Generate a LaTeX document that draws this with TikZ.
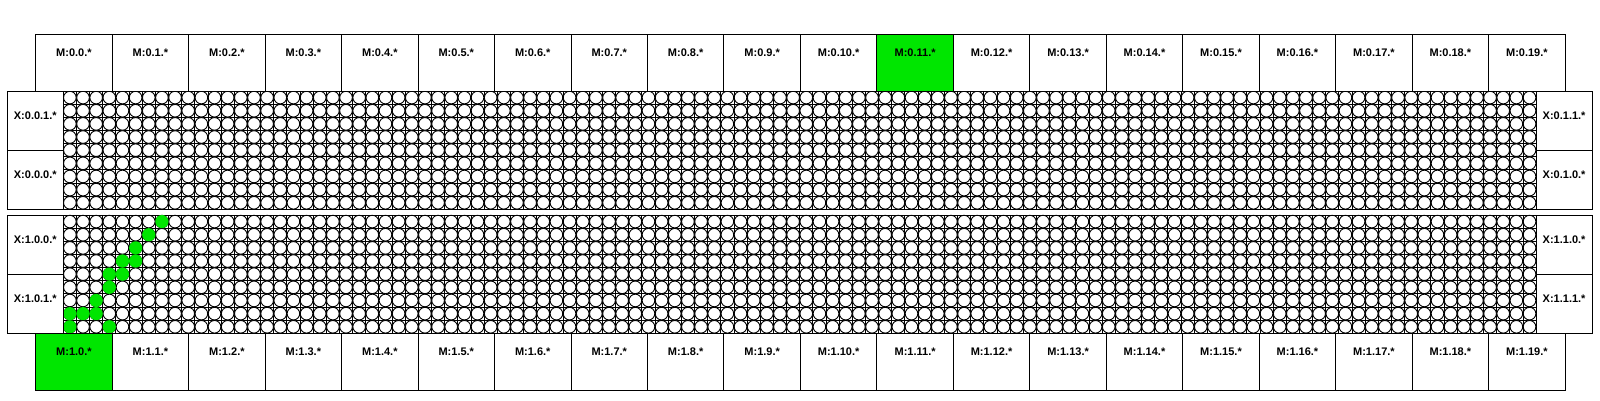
\documentclass[tikz,border=0pt]{standalone}
\usepackage{fontspec}
\setmainfont{Liberation Sans}
\usetikzlibrary{positioning}
\definecolor{busy}{RGB}{0,230,0}

\begin{document}
\begin{tikzpicture}[x=1pt,y=-1pt,
        every node/.style={font=\bfseries\fontsize{11}{13}\selectfont},
        cell/.style={draw,line width=0.9pt,fill=white,inner xsep=0pt,inner ysep=0pt,
          outer sep=0pt,anchor=north west},
        mbox/.style={cell,minimum width=76.47pt,text height=22pt,text depth=34.7pt},
        xbox/.style={cell,minimum width=56pt,text height=28pt,text depth=31.175pt},
        slot/.style={draw,line width=0.9pt,fill=white},
        hit/.style={fill=busy}
        ]
        \useasboundingbox (0,0) rectangle (1600,400);

        \foreach \g/\y in {0/91,1/215}{
          \begin{scope}[shift={(63.3,\y)}]
            \foreach \c in {0,...,112} \draw[line width=0.9pt] (\c*13.15,0) -- (\c*13.15,118.35);
            \foreach \r in {0,...,9} \draw[line width=0.9pt] (0,\r*13.15) -- (1472.8,\r*13.15);
            \foreach \c in {0,...,111}
              \foreach \r in {0,...,8}
                \draw[slot] (\c*13.15+6.575,\r*13.15+6.575) circle[radius=6.3pt];
            \draw[line width=0.9pt] (0,0) rectangle (1472.8,118.35);
          \end{scope}
        }

        \begin{scope}[shift={(63.3,215)}]
          \foreach \c/\r in {7/0,6/1,5/2,4/3,5/3,3/4,4/4,3/5,2/6,0/7,1/7,2/7,0/8,3/8}
            \fill[hit] (\c*13.15+6.575,\r*13.15+6.575) circle[radius=6.6pt];
        \end{scope}

        \node[mbox] (m_0_0) at (35.7,34.3)   {M:0.0.*};
        \node[mbox,fill=busy] (m_1_0) at (35.7,333.35) {M:1.0.*};
        \foreach \i in {1,...,19}{
          \pgfmathtruncatemacro\p{\i-1}
          \ifnum\i=11 \def\col{busy}\else\def\col{white}\fi
          \node[mbox,fill=\col,right=0pt of m_0_\p] (m_0_\i) {M:0.\i.*};
          \node[mbox,right=0pt of m_1_\p] (m_1_\i) {M:1.\i.*};
        }

        \node[xbox] (x_0_0_1) at (7.3,91)    {X:0.0.1.*};
        \node[xbox,below=0pt of x_0_0_1] (x_0_0_0) {X:0.0.0.*};
        \node[xbox] (x_0_1_1) at (1536.1,91) {X:0.1.1.*};
        \node[xbox,below=0pt of x_0_1_1] (x_0_1_0) {X:0.1.0.*};
        \node[xbox] (x_1_0_0) at (7.3,215)   {X:1.0.0.*};
        \node[xbox,below=0pt of x_1_0_0] (x_1_0_1) {X:1.0.1.*};
        \node[xbox] (x_1_1_0) at (1536.1,215) {X:1.1.0.*};
        \node[xbox,below=0pt of x_1_1_0] (x_1_1_1) {X:1.1.1.*};
      \end{tikzpicture}
\end{document}
